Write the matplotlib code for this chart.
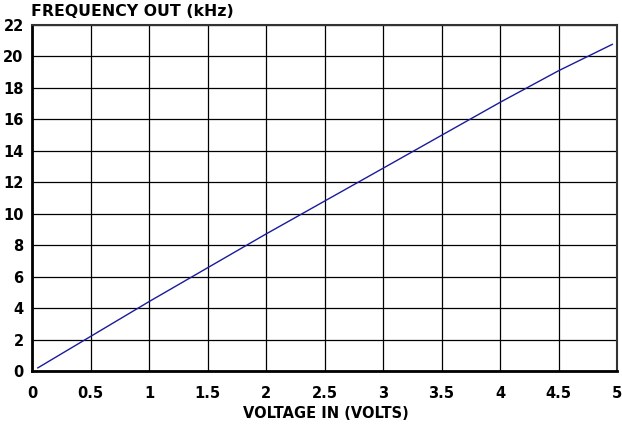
import numpy as np
import matplotlib.pyplot as plt

# values
voltage = [0.05, 1, 2, 3, 4, 4.5, 4.96]
freq_khz = [0.2, 4.41, 8.71, 12.89, 17.08, 19.09, 20.77]
x_ticks = [0, 0.5, 1, 1.5, 2, 2.5, 3, 3.5, 4, 4.5, 5]
x_labels = ['0', '0.5', '1', '1.5', '2', '2.5', '3', '3.5', '4', '4.5', '5']
y_ticks = list(range(0, 23, 2))

plt.rcParams['font.family'] = ['DejaVu Sans']
plt.rcParams['font.weight'] = 'bold'

fig = plt.figure(figsize=(6.22, 4.25), dpi=100)
ax = fig.add_axes([32/622, 54/425, 585/622, 346/425])

ax.plot(voltage, freq_khz, color='#1a1a9c', lw=1.0)

ax.set_xlim(0, 5)
ax.set_ylim(0, 22)
ax.set_xticks(x_ticks)
ax.set_xticklabels(x_labels)
ax.set_yticks(y_ticks)
ax.tick_params(length=0, labelsize=10.5)
ax.tick_params(axis='x', pad=11)
ax.tick_params(axis='y', pad=6)
ax.grid(True, color='black', lw=0.9)
ax.set_axisbelow(True)

for s in ['left', 'bottom']:
    ax.spines[s].set_linewidth(2)
for s in ['top', 'right']:
    ax.spines[s].set_linewidth(1.5)
    ax.spines[s].set_color('#333333')

fig.text(31/622, 1 - 12/425, 'FREQUENCY OUT (kHz)', fontsize=11.3,
         fontweight='bold', va='center', ha='left')
fig.text(326/622, 1 - 414/425, 'VOLTAGE IN (VOLTS)', fontsize=10.5,
         fontweight='bold', va='center', ha='center')

fig.savefig('out.png', dpi=100)
